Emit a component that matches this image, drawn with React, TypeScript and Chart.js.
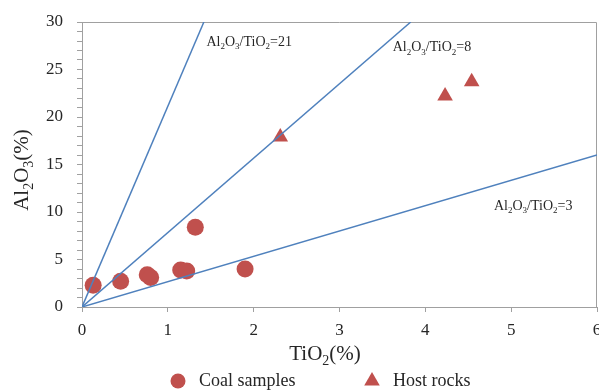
import React, { useEffect, useRef } from 'react';
import { Chart, registerables } from 'chart.js';

Chart.register(...registerables);

// ---- Data ----
const coalTiO2 = [0.13, 0.45, 0.76, 0.8, 1.15, 1.22, 1.32, 1.9];
const coalAl2O3 = [2.3, 2.7, 3.4, 3.1, 3.9, 3.8, 8.4, 4.0];
const hostTiO2 = [2.31, 4.23, 4.54];
const hostAl2O3 = [17.9, 22.2, 23.7];
const ratioNames = ['21', '8', '3'];
const ratioEndTiO2 = [1.42, 3.83, 6];
const ratioEndAl2O3 = [30, 30, 16];
// anchor of each ratio label (data units: TiO2, Al2O3)
const ratioLabelTiO2 = [1.45, 3.62, 4.8];
const ratioLabelAl2O3 = [27.5, 26.9, 10.2];
const xTicks = [0, 1, 2, 3, 4, 5, 6];
const yMajorTicks = [0, 5, 10, 15, 20, 25, 30];

const SERIF = '"Liberation Serif", "Times New Roman", serif';
const RED = '#C0504D';
const BLUE = '#4F81BD';
const GRAY = '#a0a0a0';
const TEXT = '#262626';

type Part = { t: string; sub: boolean };
function parse(s: string): Part[] {
  const parts: Part[] = [];
  const re = /\{([^}]*)\}|([^{]+)/g;
  let m: RegExpExecArray | null;
  while ((m = re.exec(s))) {
    if (m[1] !== undefined) parts.push({ t: m[1], sub: true });
    else parts.push({ t: m[2], sub: false });
  }
  return parts;
}

function drawRich(ctx: CanvasRenderingContext2D, s: string, x: number, y: number, size: number, align: 'left' | 'center') {
  const parts = parse(s);
  const sub = Math.round(size * 0.65);
  let w = 0;
  for (const p of parts) {
    ctx.font = `${p.sub ? sub : size}px ${SERIF}`;
    w += ctx.measureText(p.t).width;
  }
  let cx = align === 'center' ? x - w / 2 : x;
  ctx.textAlign = 'left';
  ctx.textBaseline = 'alphabetic';
  for (const p of parts) {
    ctx.font = `${p.sub ? sub : size}px ${SERIF}`;
    ctx.fillText(p.t, cx, p.sub ? y + size * 0.22 : y);
    cx += ctx.measureText(p.t).width;
  }
}

const decor = {
  id: 'decor',
  beforeDatasetsDraw(chart: any) {
    const { ctx, chartArea } = chart;
    ctx.save();
    ctx.strokeStyle = GRAY;
    ctx.lineWidth = 1;
    ctx.beginPath();
    ctx.moveTo(chartArea.left, chartArea.top + 0.5);
    ctx.lineTo(chartArea.right - 0.5, chartArea.top + 0.5);
    ctx.lineTo(chartArea.right - 0.5, chartArea.bottom);
    ctx.stroke();
    ctx.restore();
  },
  afterDraw(chart: any) {
    const { ctx } = chart;
    const xs = chart.scales.x;
    const ys = chart.scales.y;
    ctx.save();
    ctx.fillStyle = TEXT;
    // ratio labels
    ratioNames.forEach((n, i) => {
      drawRich(ctx, `Al{2}O{3}/TiO{2}=${n}`, xs.getPixelForValue(ratioLabelTiO2[i]), ys.getPixelForValue(ratioLabelAl2O3[i]), 14, 'left');
    });
    // x title
    drawRich(ctx, 'TiO{2}(%)', 325, 360, 21, 'center');
    // y title
    ctx.save();
    ctx.translate(28, 170);
    ctx.rotate(-Math.PI / 2);
    drawRich(ctx, 'Al{2}O{3}(%)', 0, 0, 21, 'center');
    ctx.restore();
    // legend
    const ly = 381;
    ctx.fillStyle = RED;
    ctx.beginPath();
    ctx.arc(178, ly, 7.5, 0, Math.PI * 2);
    ctx.fill();
    ctx.beginPath();
    const r = 9;
    ctx.moveTo(372, ly - r);
    ctx.lineTo(372 + r * Math.sin(Math.PI * 2 / 3), ly + r / 2);
    ctx.lineTo(372 - r * Math.sin(Math.PI * 2 / 3), ly + r / 2);
    ctx.closePath();
    ctx.fill();
    ctx.fillStyle = TEXT;
    ctx.font = `18px ${SERIF}`;
    ctx.textBaseline = 'middle';
    ctx.textAlign = 'left';
    ctx.fillText('Coal samples', 199, ly);
    ctx.fillText('Host rocks', 393, ly);
    ctx.restore();
  },
};

export default function App() {
  const ref = useRef<HTMLCanvasElement | null>(null);
  useEffect(() => {
    if (!ref.current) return;
    const lineSets = ratioNames.map((n, i) => ({
      label: `Al2O3/TiO2=${n}`,
      data: [{ x: 0, y: 0 }, { x: ratioEndTiO2[i], y: ratioEndAl2O3[i] }],
      showLine: true,
      borderColor: BLUE,
      borderWidth: 1.5,
      pointRadius: 0,
      fill: false,
    }));
    const chart = new Chart(ref.current, {
      type: 'scatter',
      data: {
        datasets: [
          ...lineSets,
          {
            label: 'Coal samples',
            data: coalTiO2.map((x, i) => ({ x, y: coalAl2O3[i] })),
            pointStyle: 'circle',
            pointRadius: 8.5,
            backgroundColor: RED,
            borderColor: RED,
            borderWidth: 0,
          },
          {
            label: 'Host rocks',
            data: hostTiO2.map((x, i) => ({ x, y: hostAl2O3[i] })),
            pointStyle: 'triangle',
            pointRadius: 9,
            backgroundColor: RED,
            borderColor: RED,
            borderWidth: 0,
          },
        ] as any,
      },
      options: {
        responsive: false,
        animation: false,
        devicePixelRatio: 1,
        layout: { padding: { left: 0, right: 0, top: 22, bottom: 0 } },
        plugins: { legend: { display: false }, tooltip: { enabled: false } },
        scales: {
          x: {
            type: 'linear',
            min: 0,
            max: 6,
            afterBuildTicks: (s: any) => { s.ticks = xTicks.map((v) => ({ value: v })); },
            ticks: { stepSize: 1, autoSkip: false, maxRotation: 0, padding: 8, color: TEXT, font: { family: SERIF, size: 17 } },
            grid: { drawOnChartArea: false, tickLength: 5, color: GRAY },
            border: { color: GRAY },
            afterFit: (s: any) => { s.height = 84; s.paddingLeft = 0; s.paddingRight = 0; },
          },
          y: {
            type: 'linear',
            min: 0,
            max: 30,
            ticks: {
              stepSize: 1,
              autoSkip: false,
              padding: 14,
              color: TEXT,
              font: { family: SERIF, size: 17 },
              callback: (v: any) => (yMajorTicks.includes(Number(v)) ? String(v) : ''),
            },
            grid: { drawOnChartArea: false, tickLength: 5, color: GRAY },
            border: { color: GRAY },
            afterFit: (s: any) => { s.width = 82; s.paddingTop = 0; s.paddingBottom = 0; },
          },
        },
      } as any,
      plugins: [decor],
    });
    return () => chart.destroy();
  }, []);
  return (
    <div style={{ position: 'absolute', left: 0, top: 0, width: 599, height: 391, overflow: 'hidden', background: '#fff' }}>
      <canvas ref={ref} width={606} height={391} style={{ display: 'block' }} />
    </div>
  );
}
